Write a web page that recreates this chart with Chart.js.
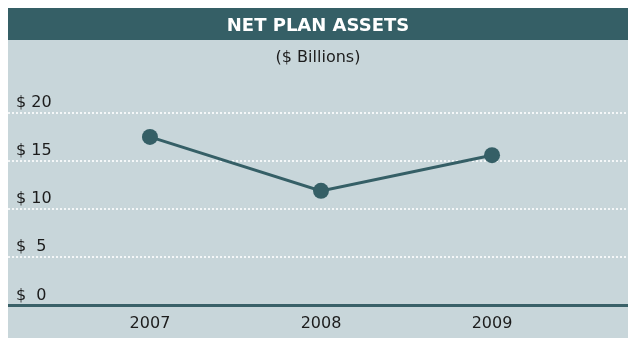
<!DOCTYPE html>
<html>
<head>
<meta charset="utf-8">
<script src="https://cdn.jsdelivr.net/npm/chart.js@4"></script>
<style>
  html, body { margin: 0; padding: 0; background: #ffffff; }
  #panel { position: absolute; left: 8px; top: 8px; width: 620px; height: 330px; }
</style>
</head>
<body>
<div id="panel"><canvas id="assetsChart"></canvas></div>
<script>
// Net plan assets, $ billions
var years = [2007, 2008, 2009];
var assets = [17.5, 11.9, 15.6];
var yTickValues = [0, 5, 10, 15, 20];
var yTickLabels = ['$  0', '$  5', '$ 10', '$ 15', '$ 20'];

var darkTeal = '#355f66';
var panelBg = '#c8d6da';
var font = 'DejaVu Sans';

// paints the light panel and the dark header band behind the title
var panelBackground = {
  id: 'panelBackground',
  beforeDraw: function(chart) {
    var ctx = chart.ctx;
    ctx.save();
    ctx.fillStyle = panelBg;
    ctx.fillRect(0, 0, chart.width, chart.height);
    ctx.fillStyle = darkTeal;
    ctx.fillRect(0, 0, chart.width, 32);
    ctx.restore();
  }
};

var ctx = document.getElementById('assetsChart').getContext('2d');
var assetsChart = new Chart(ctx, {
  type: 'line',
  data: {
    datasets: [{
      data: years.map(function(y, i) { return { x: y, y: assets[i] }; }),
      borderColor: darkTeal,
      backgroundColor: darkTeal,
      borderWidth: 3,
      pointRadius: 8,
      pointHoverRadius: 8,
      pointBorderWidth: 0,
      tension: 0,
      clip: false
    }]
  },
  options: {
    responsive: true,
    maintainAspectRatio: false,
    animation: false,
    layout: { autoPadding: false, padding: 0 },
    plugins: {
      legend: { display: false },
      tooltip: { enabled: false },
      title: {
        display: true,
        text: 'NET PLAN ASSETS',
        color: '#ffffff',
        font: { family: font, size: 18, weight: 'bold' },
        padding: { top: 8, bottom: 4 }
      },
      subtitle: {
        display: true,
        text: '($ Billions)',
        color: '#1c1c1c',
        font: { family: font, size: 16 },
        padding: { top: 7, bottom: 45 }
      }
    },
    scales: {
      x: {
        type: 'linear',
        min: 2006.17,
        max: 2009.795,
        afterBuildTicks: function(scale) {
          scale.ticks = years.map(function(v) { return { value: v }; });
        },
        // fixed band under the axis line for the year labels
        afterFit: function(scale) { scale.height = 32.5; },
        grid: { display: false, drawTicks: false },
        border: { display: true, color: '#3a6168', width: 3 },
        ticks: {
          color: '#1c1c1c',
          font: { family: font, size: 16 },
          padding: 9,
          callback: function(v) { return String(v); }
        }
      },
      y: {
        min: 0,
        max: 20,
        afterBuildTicks: function(scale) {
          scale.ticks = yTickValues.map(function(v) { return { value: v }; });
        },
        // labels sit inside the plot, so the axis itself takes no room
        afterFit: function(scale) { scale.width = 0; },
        grid: {
          drawTicks: false,
          lineWidth: 2,
          color: function(c) { return c.tick && c.tick.value === 0 ? 'rgba(0,0,0,0)' : '#f4f7f8'; }
        },
        border: { display: false, dash: [2, 2] },
        ticks: {
          mirror: true,
          padding: 8,
          labelOffset: -10,
          color: '#1c1c1c',
          font: { family: font, size: 16 },
          callback: function(v) { return yTickLabels[yTickValues.indexOf(v)]; }
        }
      }
    }
  },
  plugins: [panelBackground]
});
</script>
</body>
</html>
